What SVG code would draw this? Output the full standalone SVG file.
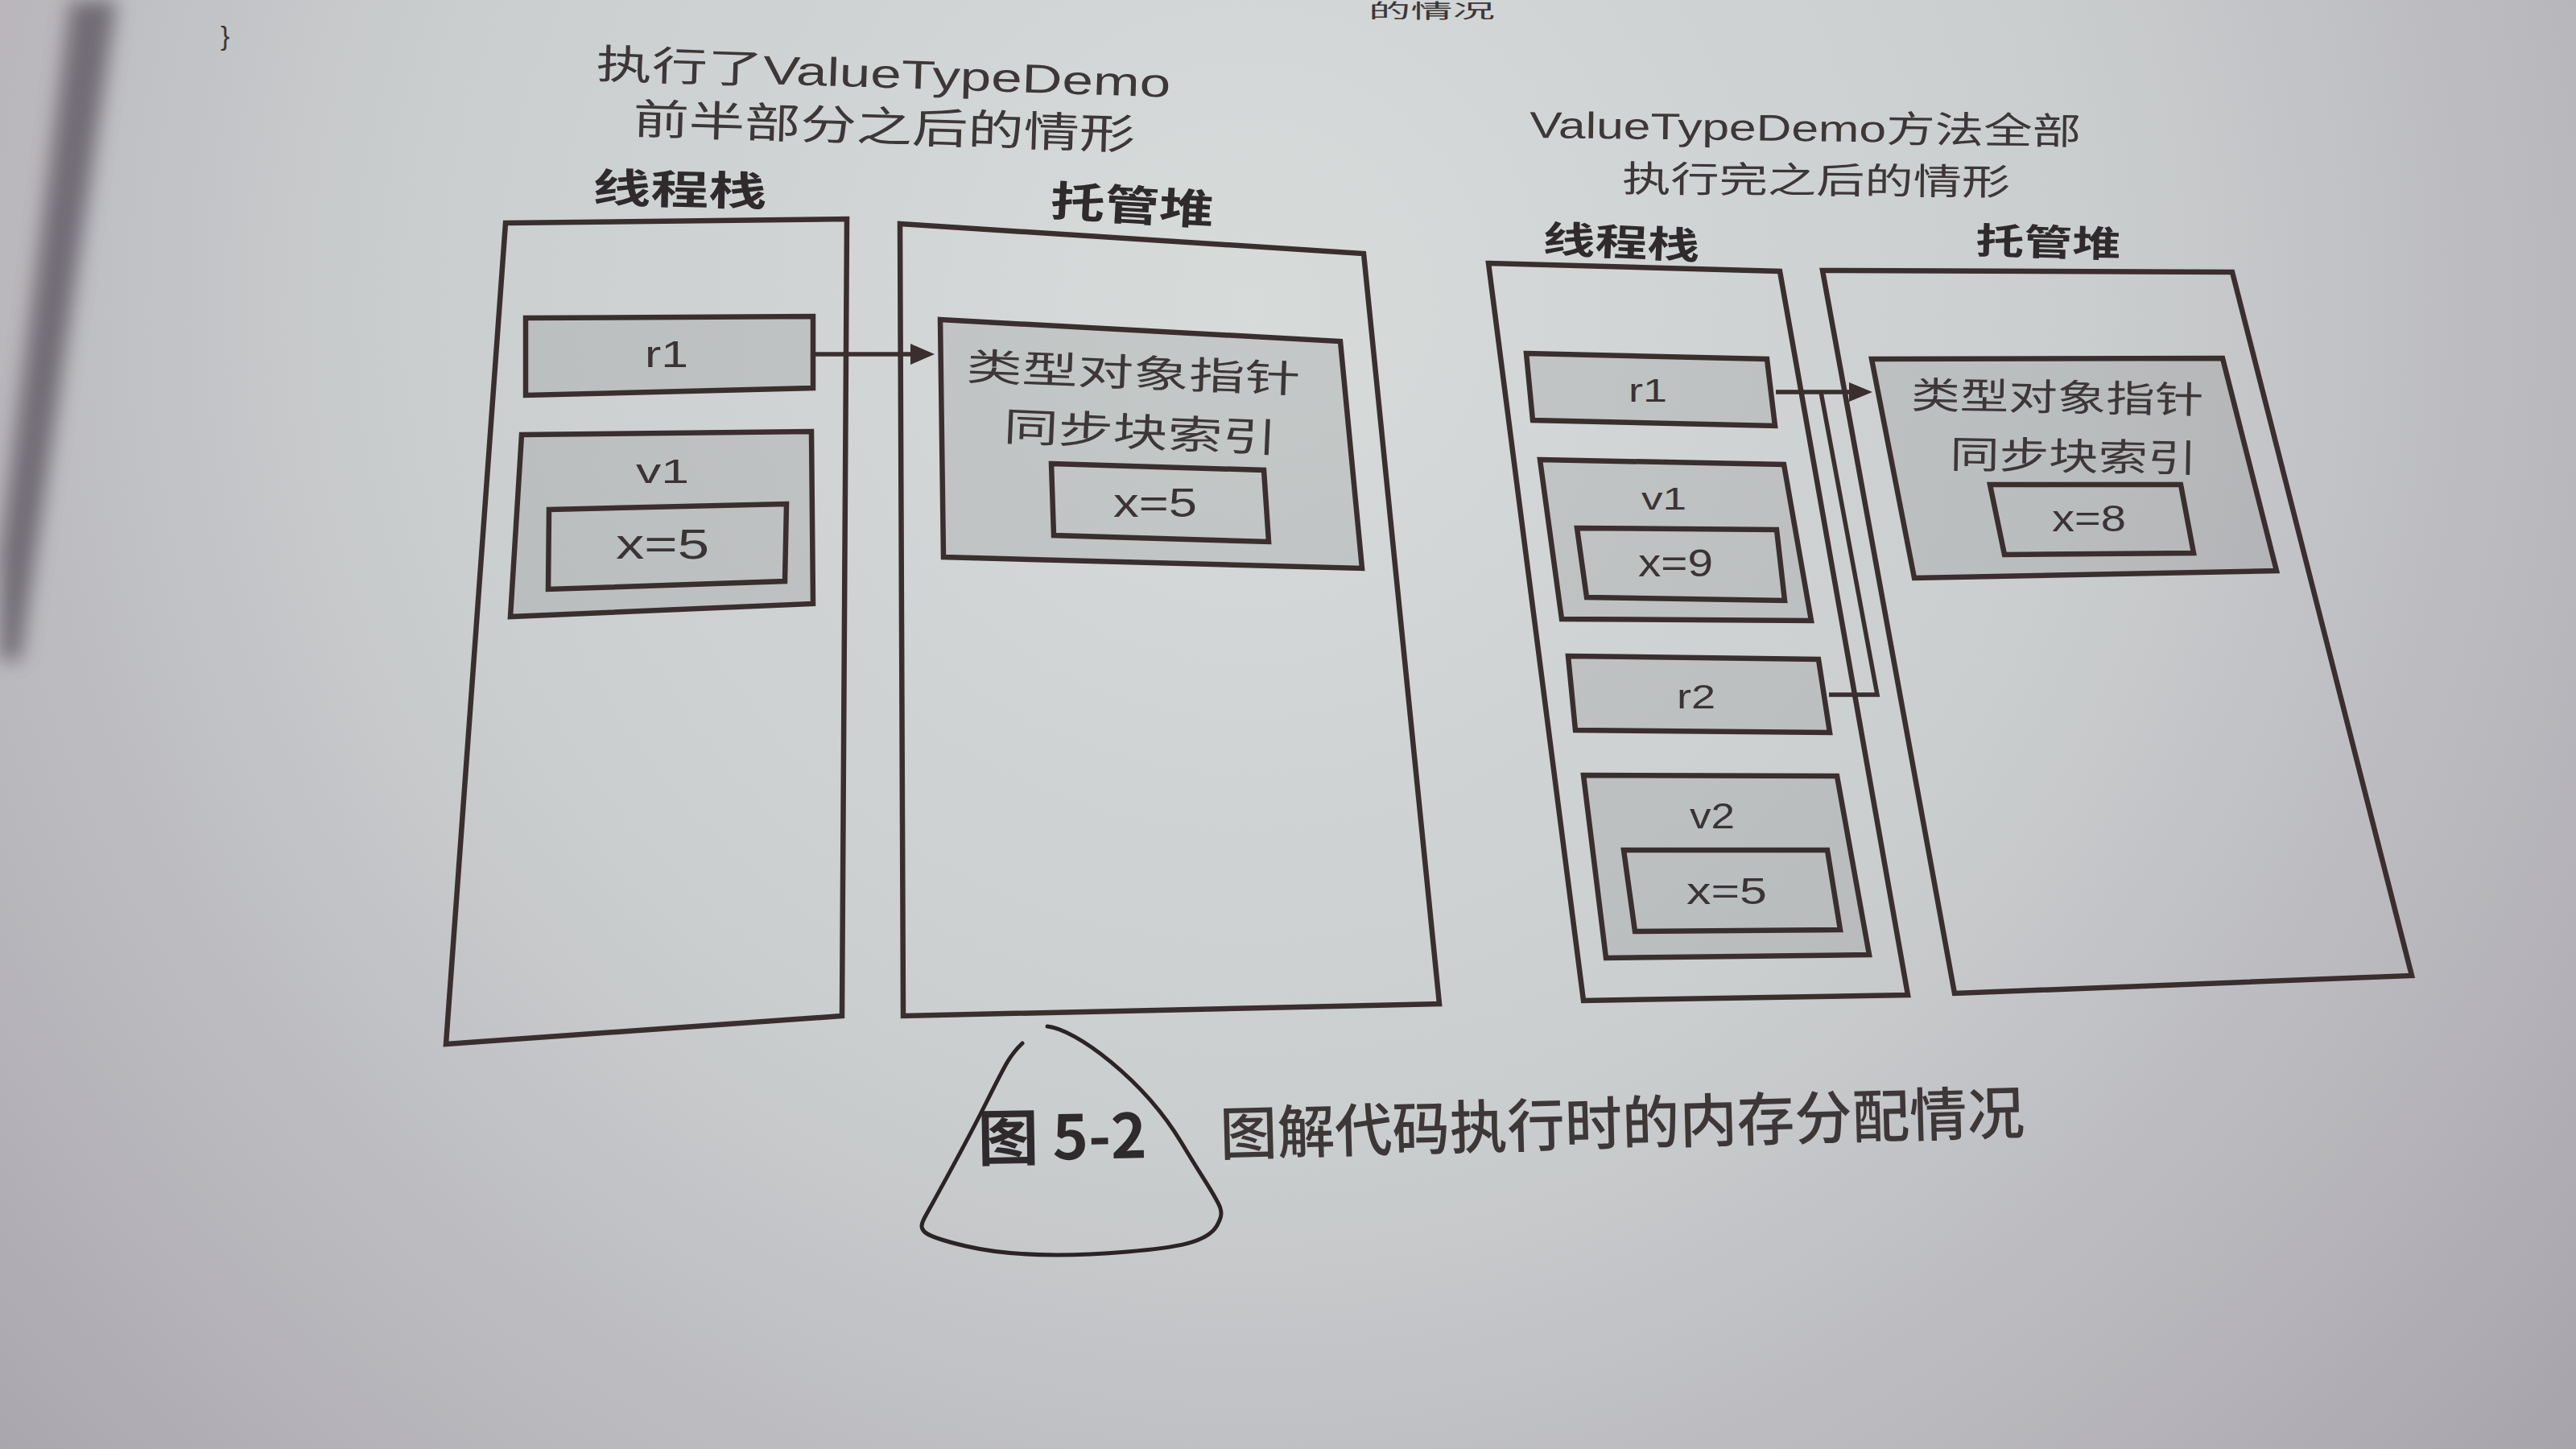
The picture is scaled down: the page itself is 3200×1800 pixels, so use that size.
<svg xmlns="http://www.w3.org/2000/svg" width="3200" height="1800" viewBox="0 0 3200 1800">
<defs>
<radialGradient id="paper" cx="1550" cy="380" r="2300" gradientUnits="userSpaceOnUse">
<stop offset="0" stop-color="#d7dbda"/>
<stop offset="0.45" stop-color="#cbcecf"/>
<stop offset="0.8" stop-color="#b3b1b7"/>
<stop offset="1" stop-color="#a29ea6"/>
</radialGradient>
<filter id="blur" x="-50%" y="-50%" width="200%" height="200%"><feGaussianBlur stdDeviation="12"/></filter>
<style>
.box{fill:none;stroke:#3a2e2f;stroke-width:6.5;stroke-linejoin:miter}
.cell{fill:#4a4a4d;fill-opacity:0.13;stroke:#3a2e2f;stroke-width:6.5}
.inner{fill:none;stroke:#3a2e2f;stroke-width:6.5}
.con{fill:none;stroke:#3a2e2f;stroke-width:5.5}
.head{fill:#3a2e2f}
.t{font-family:"Liberation Sans","Noto Sans CJK SC",sans-serif;fill:#3d3738}
.cj{font-family:"Noto Sans CJK SC",sans-serif;fill:#3d3738}
.b{font-weight:bold;fill:#2f2a2b}
.lbl{font-family:"Liberation Sans","Noto Sans CJK SC",sans-serif;fill:#3a3435}
</style>
</defs>
<rect width="3200" height="1800" fill="url(#paper)"/>
<polygon points="0,0 95,0 0,740" fill="#b9b4ba" opacity="0.6"/>
<polygon points="88,0 145,0 25,820 0,820 0,690" fill="#5e5962" opacity="0.8" filter="url(#blur)"/>
<text class="cj" x="1700" y="22" font-size="24" textLength="157" lengthAdjust="spacingAndGlyphs">的情况</text>
<text class="t" x="274" y="56" font-size="34" fill="#3d3738">}</text>

<g id="left-titles">
<text class="t" x="740" y="97" font-size="50" textLength="714" lengthAdjust="spacingAndGlyphs" transform="rotate(1.9 740 97)">执行了ValueTypeDemo</text>
<text class="cj" x="786" y="166" font-size="52" textLength="624" lengthAdjust="spacingAndGlyphs" transform="rotate(1.8 786 166)">前半部分之后的情形</text>
<text class="cj b" x="736" y="251" font-size="50" textLength="216" lengthAdjust="spacingAndGlyphs" transform="rotate(1.3 736 251)">线程栈</text>
<text class="cj b" x="1304" y="268" font-size="52" textLength="203" lengthAdjust="spacingAndGlyphs" transform="rotate(3.3 1304 268)">托管堆</text>
</g>

<g id="left-stack">
<polygon class="box" points="628,277 1052,272 1046,1262 554,1297"/>
</g>
<g id="left-r1">
<polygon class="cell" points="653,395 1010,393 1010,482 653,491"/>
<text class="lbl" x="801" y="456" font-size="46" textLength="54" lengthAdjust="spacingAndGlyphs">r1</text>
</g>
<g id="left-v1">
<polygon class="cell" points="648,540 1008,536 1010,750 634,766"/>
<text class="lbl" x="790" y="600" font-size="42" textLength="66" lengthAdjust="spacingAndGlyphs">v1</text>
<polygon class="inner" points="682,633 977,626 975,722 681,732"/>
<text class="lbl" x="765" y="694" font-size="51" textLength="116" lengthAdjust="spacingAndGlyphs">x=5</text>
</g>
<g id="left-heap">
<polygon class="box" points="1118,278 1694,315 1788,1247 1122,1262"/>
</g>
<g id="left-object">
<polygon class="cell" points="1168,397 1665,424 1692,706 1172,692"/>
<text class="cj" x="1200" y="472" font-size="47" textLength="415" lengthAdjust="spacingAndGlyphs" transform="rotate(2.2 1200 472)">类型对象指针</text>
<text class="cj" x="1246" y="547" font-size="49" textLength="340" lengthAdjust="spacingAndGlyphs" transform="rotate(2.5 1246 547)">同步块索引</text>
<polygon class="inner" points="1306,576 1570,584 1576,673 1309,665"/>
<text class="lbl" x="1383" y="642" font-size="50" textLength="104" lengthAdjust="spacingAndGlyphs">x=5</text>
</g>

<g id="right-titles">
<text class="t" x="1900" y="171" font-size="46" textLength="685" lengthAdjust="spacingAndGlyphs" transform="rotate(0.7 1900 171)">ValueTypeDemo方法全部</text>
<text class="cj" x="2015" y="238" font-size="45" textLength="482" lengthAdjust="spacingAndGlyphs" transform="rotate(0.5 2015 238)">执行完之后的情形</text>
<text class="cj b" x="1916" y="313" font-size="46" textLength="195" lengthAdjust="spacingAndGlyphs" transform="rotate(2.6 1916 313)">线程栈</text>
<text class="cj b" x="2454" y="315" font-size="45" textLength="180" lengthAdjust="spacingAndGlyphs" transform="rotate(1.4 2454 315)">托管堆</text>
</g>

<g id="right-stack">
<polygon class="box" points="1849,327 2211,337 2370,1236 1967,1243"/>
</g>
<g id="right-r1">
<polygon class="cell" points="1896,439 2195,446 2205,529 1904,522"/>
<text class="lbl" x="2023" y="499" font-size="41" textLength="48" lengthAdjust="spacingAndGlyphs">r1</text>
</g>
<g id="right-v1">
<polygon class="cell" points="1913,571 2216,577 2250,771 1940,769"/>
<text class="lbl" x="2039" y="633" font-size="38" textLength="56" lengthAdjust="spacingAndGlyphs">v1</text>
<polygon class="inner" points="1959,656 2207,658 2217,746 1971,742"/>
<text class="lbl" x="2035" y="716" font-size="48" textLength="93" lengthAdjust="spacingAndGlyphs">x=9</text>
</g>
<g id="right-r2">
<polygon class="cell" points="1948,815 2259,819 2273,910 1957,907"/>
<text class="lbl" x="2083" y="880" font-size="43" textLength="48" lengthAdjust="spacingAndGlyphs">r2</text>
</g>
<g id="right-v2">
<polygon class="cell" points="1967,963 2282,964 2322,1186 1995,1190"/>
<text class="lbl" x="2099" y="1029" font-size="44" textLength="56" lengthAdjust="spacingAndGlyphs">v2</text>
<polygon class="inner" points="2017,1056 2270,1056 2286,1155 2031,1157"/>
<text class="lbl" x="2095" y="1123" font-size="46" textLength="100" lengthAdjust="spacingAndGlyphs">x=5</text>
</g>
<g id="right-heap">
<polygon class="box" points="2264,336 2773,338 2996,1212 2428,1234"/>
</g>
<g id="right-object">
<polygon class="cell" points="2325,446 2761,445 2828,709 2378,718"/>
<text class="cj" x="2374" y="507" font-size="46" textLength="363" lengthAdjust="spacingAndGlyphs" transform="rotate(1 2374 507)">类型对象指针</text>
<text class="cj" x="2422" y="581" font-size="47" textLength="307" lengthAdjust="spacingAndGlyphs" transform="rotate(1 2422 581)">同步块索引</text>
<polygon class="inner" points="2472,602 2709,602 2725,687 2490,689"/>
<text class="lbl" x="2549" y="660" font-size="47" textLength="92" lengthAdjust="spacingAndGlyphs">x=8</text>
</g>

<g id="connectors">
<path class="con" d="M1012,440 L1136,440"/>
<polygon class="head" points="1161,440 1131,427 1131,453"/>
<path class="con" d="M2206,487 L2302,487"/>
<polygon class="head" points="2326,487 2297,475 2297,499"/>
<path class="con" d="M2272,863 L2332,863 L2262,487"/>
</g>

<g id="caption">
<text class="cj b" x="1215" y="1442" font-size="76" textLength="210" lengthAdjust="spacingAndGlyphs" fill="#2a2526" transform="rotate(-1 1215 1442)">图 5-2</text>
<text class="cj" x="1516" y="1435" font-size="72" font-weight="500" textLength="1000" lengthAdjust="spacingAndGlyphs" fill="#2e292a" transform="rotate(-1.55 1516 1435)">图解代码执行时的内存分配情况</text>
<path d="M1301,1275 C1335,1278 1420,1340 1468,1420 S1524,1500 1512,1522 S1460,1550 1400,1555 S1260,1562 1200,1548 S1140,1528 1150,1510 S1200,1420 1225,1370 S1255,1310 1270,1296" fill="none" stroke="#2b2324" stroke-width="5" stroke-linecap="round"/>
</g>
</svg>
